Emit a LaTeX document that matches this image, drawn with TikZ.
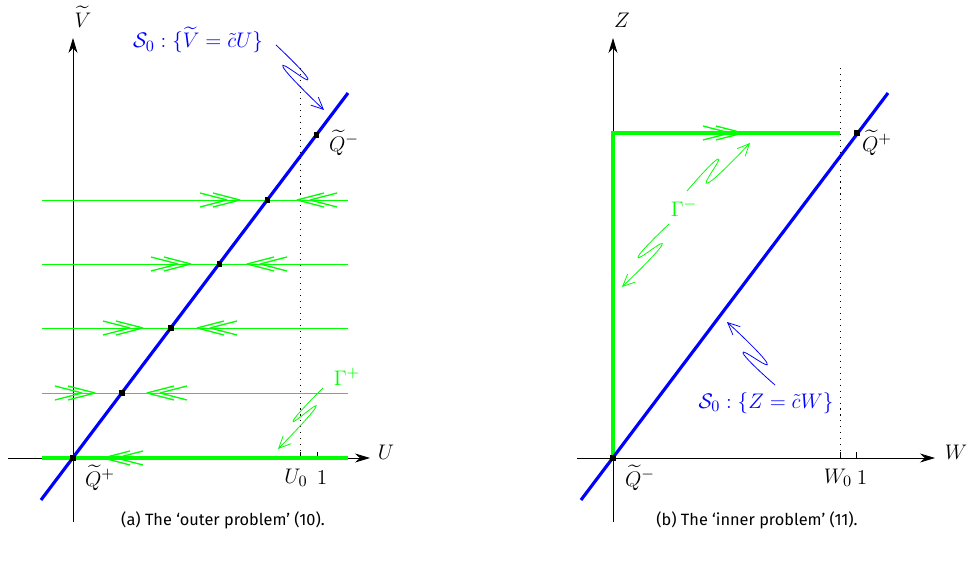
\documentclass[tikz,border=0pt]{standalone}
\usepackage{amsmath,amssymb}
\usepackage{fontspec}
\newfontfamily\capfont{Fira Sans}
\usetikzlibrary{arrows.meta}
\definecolor{flowgreen}{RGB}{0,255,0}
\definecolor{slowblue}{RGB}{0,0,255}

\tikzset{
  axis/.style={line width=0.45pt, -{Stealth[length=3mm,width=1.8mm]}},
  orbit/.style={flowgreen, line width=0.5pt},
  heteroclinic/.style={flowgreen, line width=2.2pt},
  manifold/.style={slowblue, line width=1.8pt},
  equi/.style={fill=black, inner sep=0pt, minimum size=0.11cm},
  chev/.style={flowgreen, line width=0.75pt, line join=round},
  dchev/.pic={\draw[chev] (-27,-7) -- (0,0) -- (-27,7) (-40,-7) -- (-13,0) -- (-40,7);},
  pointer/.style={line width=0.45pt, -{Straight Barb[length=2.4mm,width=2.2mm]}},
  dotline/.style={line width=0.5pt, dash pattern=on 0.6pt off 2.8pt},
  lbl/.style={font=\fontsize{13}{15}\selectfont, inner sep=1pt},
  captext/.style={font=\capfont\fontsize{9.3}{11}\selectfont},
}

\begin{document}
\begin{tikzpicture}[x=0.02cm, y=-0.02cm]
\useasboundingbox (0,0) rectangle (968,561);

% (a) outer problem
\draw[axis] (8,458) -- (370,458);
\draw[axis] (73,522) -- (73,38);
\node[lbl] (Ulab) at (386,452) {$U$};
\node[lbl] (Vlab) at (83,17) {$\widetilde{V}$};
\draw[dotline] (300,68) -- (300,458);
\draw (300,452) -- (300,458);
\draw (317,452) -- (317,458);
\node[lbl] (U0) at (296,478) {$U_0$};
\node[lbl] (Uone) at (322,478) {$1$};

\foreach \y/\xr/\xl in {200/240/297, 264/191/247, 328/143/197, 393/95/147} {
  \draw[orbit] (42,\y) -- (348,\y);
  \pic at (\xr,\y) {dchev};
  \pic[rotate=180] at (\xl,\y) {dchev};
}
\draw[heteroclinic] (42,458) -- (348,458);
\pic[rotate=180] at (103,458) {dchev};

\draw[manifold] (41,500) -- (348,93);
\foreach \y in {200,264,328,393}
  \node[equi] (eqa-\y) at ({73+(458-\y)/1.326},\y) {};
\node[equi] (Qpa) at (73,458) {};
\node[equi] (Qma) at (316.6,135) {};
\node[lbl] (Qpalab) at (100,478) {$\widetilde{Q}^+$};
\node[lbl] (Qmalab) at (344,143) {$\widetilde{Q}^-$};

\node[lbl, text=slowblue] (Sa) at (198,40) {$\mathcal{S}_0 : \{\widetilde{V} = \tilde{c}U\}$};
\draw[pointer, slowblue] plot[smooth, tension=1] coordinates {(276,45) (308,79) (283,67) (324,110)};
\node[lbl, text=flowgreen] (Gp) at (347,377) {$\Gamma^+$};
\draw[pointer, flowgreen] plot[smooth, tension=1] coordinates {(323,388) (293,421) (316,407) (278,449)};

\node[captext] (capa) at (223,520) {(a) The ‘outer problem’ (10).};

% (b) inner problem
\draw[axis] (577,458) -- (935,458);
\draw[axis] (613,522) -- (613,38);
\node[lbl] (Wlab) at (956,452) {$W$};
\node[lbl] (Zlab) at (622,20) {$Z$};
\draw[dotline] (840,68) -- (840,458);
\draw (840,452) -- (840,458);
\draw (856,452) -- (856,458);
\node[lbl] (W0) at (838,478) {$W_0$};
\node[lbl] (Wone) at (862,478) {$1$};

\draw[heteroclinic, line join=miter] (613,458) -- (613,133) -- (840,133);
\pic at (743,133) {dchev};

\draw[manifold] (581,500) -- (888,93);
\node[equi] (Qmb) at (613,458) {};
\node[equi] (Qpb) at (857,133) {};
\node[lbl] (Qmblab) at (640,478) {$\widetilde{Q}^-$};
\node[lbl] (Qpblab) at (877,143) {$\widetilde{Q}^+$};

\node[lbl, text=flowgreen] (Gm) at (684,208) {$\Gamma^-$};
\draw[pointer, flowgreen] plot[smooth, tension=1] coordinates {(687,191) (718,159) (708,183) (750,143)};
\draw[pointer, flowgreen] plot[smooth, tension=1] coordinates {(669,224) (638,257) (662,245) (622,287)};
\node[lbl, text=slowblue] (Sb) at (766,403) {$\mathcal{S}_0 : \{Z = \tilde{c}W\}$};
\draw[pointer, slowblue] plot[smooth, tension=1] coordinates {(775,385) (743,353) (767,363) (727,322)};

\node[captext] (capb) at (757,520) {(b) The ‘inner problem’ (11).};
\end{tikzpicture}
\end{document}
